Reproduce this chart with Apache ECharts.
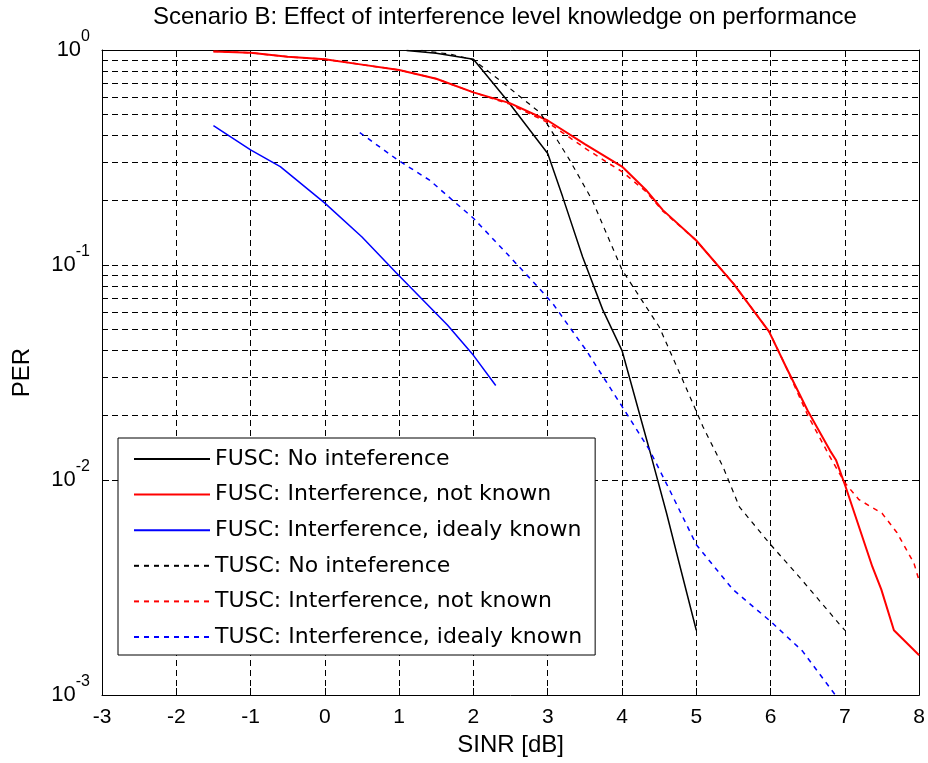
<!DOCTYPE html>
<html>
<head>
<meta charset="utf-8">
<script src="https://cdn.jsdelivr.net/npm/echarts@6/dist/echarts.min.js"></script>
<style>
  html, body { margin: 0; padding: 0; background: #fff; }
  #chart { width: 928px; height: 763px; }
</style>
</head>
<body>
<div id="chart"></div>
<script>
// SINR [dB] vs packet error rate, Scenario B
const fuscNoIntX = [1.1, 1.5, 2.0, 2.45, 3.0, 3.2, 3.47, 3.74, 4.0, 4.37, 4.6, 4.77, 5.0];
const fuscNoIntY = [0.995, 0.965, 0.905, 0.585, 0.33, 0.208, 0.109, 0.062, 0.04, 0.0138, 0.007, 0.0041, 0.002];

const fuscUnknownX = [-1.5, -1.0, -0.5, 0, 0.5, 1.0, 1.5, 2.0, 2.49, 3.0, 3.5, 4.0, 4.32, 4.55, 5.0, 5.5, 5.98, 6.2, 6.5, 6.8, 6.88, 7.01, 7.37, 7.49, 7.66, 8.0];
const fuscUnknownY = [0.985, 0.971, 0.93, 0.905, 0.855, 0.807, 0.735, 0.635, 0.566, 0.47, 0.365, 0.287, 0.224, 0.18, 0.13, 0.082, 0.049, 0.034, 0.021, 0.0137, 0.0124, 0.0093, 0.00395, 0.0031, 0.002, 0.00153];

const fuscKnownX = [-1.5, -1.0, -0.6, 0, 0.5, 0.96, 1.65, 2.0, 2.3];
const fuscKnownY = [0.445, 0.343, 0.287, 0.194, 0.135, 0.092, 0.0526, 0.038, 0.0275];

const tuscNoIntX = [1.3, 1.7, 2.0, 2.35, 2.9, 3.29, 3.6, 4.0, 4.5, 4.82, 5.09, 5.36, 5.58, 5.98, 6.43, 6.92, 7.0];
const tuscNoIntY = [0.995, 0.955, 0.9, 0.725, 0.51, 0.31, 0.2, 0.095, 0.0516, 0.029, 0.0177, 0.0115, 0.0075, 0.0051, 0.0034, 0.00215, 0.002];

const tuscUnknownX = [-1.5, -1.0, -0.5, 0, 0.5, 1.0, 1.5, 2.0, 2.49, 3.0, 3.5, 3.8, 4.0, 4.32, 4.55, 5.0, 5.5, 5.98, 6.2, 6.5, 6.8, 7.0, 7.19, 7.5, 7.7, 7.93, 8.0];
const tuscUnknownY = [0.985, 0.971, 0.93, 0.905, 0.855, 0.807, 0.735, 0.635, 0.56, 0.46, 0.35, 0.3, 0.272, 0.22, 0.178, 0.13, 0.082, 0.049, 0.034, 0.02, 0.0128, 0.0097, 0.0081, 0.007, 0.0057, 0.0041, 0.0034];

const tuscKnownX = [0.47, 0.98, 1.41, 1.72, 2.0, 2.45, 2.84, 3.07, 3.52, 4.0, 4.37, 4.64, 5.0, 5.49, 6.0, 6.43, 6.9];
const tuscKnownY = [0.413, 0.308, 0.248, 0.2, 0.165, 0.113, 0.081, 0.066, 0.04, 0.022, 0.0138, 0.009, 0.005, 0.0031, 0.0022, 0.0016, 0.00097];

const seriesNames = [
  'FUSC: No inteference',
  'FUSC: Interference, not known',
  'FUSC: Interference, idealy known',
  'TUSC: No inteference',
  'TUSC: Interference, not known',
  'TUSC: Interference, idealy known'
];

// log-decade subdivisions (2..9 x 10^k) used for the minor grid
const minorGridValues = [
  0.002, 0.003, 0.004, 0.005, 0.006, 0.007, 0.008, 0.009,
  0.02, 0.03, 0.04, 0.05, 0.06, 0.07, 0.08, 0.09,
  0.2, 0.3, 0.4, 0.5, 0.6, 0.7, 0.8, 0.9
];

const titleText = 'Scenario B: Effect of interference level knowledge on performance';
const xName = 'SINR [dB]';
const yName = 'PER';

const FONT = '"Liberation Sans", Arial, sans-serif';
const LEGEND_FONT = '"DejaVu Sans", Verdana, sans-serif';
const GRID_DASH = [6, 4];

function zip(xs, ys) {
  return xs.map((x, i) => [x, ys[i]]);
}

function curve(name, xs, ys, color, dashed, width) {
  return {
    name: name,
    type: 'line',
    data: zip(xs, ys),
    symbol: 'none',
    z: 10,
    clip: true,
    animation: false,
    lineStyle: { color: color, width: width, type: dashed ? [5, 5] : 'solid' },
    itemStyle: { color: color }
  };
}

const chart = echarts.init(document.getElementById('chart'), null, { renderer: 'canvas' });

chart.setOption({
  backgroundColor: '#ffffff',
  animation: false,
  title: {
    text: titleText,
    left: 153,
    top: 5,
    padding: 0,
    textStyle: { fontFamily: FONT, fontSize: 24, fontWeight: 'normal', color: '#000' }
  },
  grid: { left: 102, right: 8, top: 50, bottom: 68, containLabel: false },
  legend: {
    data: seriesNames,
    orient: 'vertical',
    left: 118,
    top: 438,
    padding: [10, 13, 7, 15],
    itemWidth: 76,
    itemHeight: 14,
    itemGap: 13.6,
    backgroundColor: '#ffffff',
    borderColor: '#000',
    borderWidth: 1,
    borderRadius: 0,
    selectedMode: false,
    itemStyle: { opacity: 0, borderWidth: 0 },
    textStyle: { fontFamily: LEGEND_FONT, fontSize: 22, lineHeight: 22, color: '#000' }
  },
  xAxis: [
    {
      type: 'value',
      position: 'bottom',
      min: -3,
      max: 8,
      interval: 1,
      name: xName,
      nameLocation: 'middle',
      nameGap: 38,
      nameTextStyle: { fontFamily: FONT, fontSize: 24, color: '#000' },
      axisLine: { show: true, onZero: false, lineStyle: { color: '#000', width: 1 } },
      axisTick: { show: true, inside: true, length: 7, lineStyle: { color: '#000' } },
      axisLabel: { fontFamily: FONT, fontSize: 21, color: '#000', margin: 12 },
      splitLine: { show: true, lineStyle: { color: '#000', width: 1, type: GRID_DASH } }
    },
    {
      type: 'value',
      position: 'top',
      min: -3,
      max: 8,
      interval: 1,
      axisLine: { show: true, onZero: false, lineStyle: { color: '#000', width: 1 } },
      axisTick: { show: true, inside: true, length: 7, lineStyle: { color: '#000' } },
      axisLabel: { show: false },
      splitLine: { show: false }
    }
  ],
  yAxis: [
    {
      type: 'log',
      logBase: 10,
      position: 'left',
      min: 0.001,
      max: 1,
      name: yName,
      nameLocation: 'middle',
      nameGap: 68,
      nameRotate: 90,
      nameTextStyle: { fontFamily: FONT, fontSize: 24, color: '#000' },
      axisLine: { show: true, onZero: false, lineStyle: { color: '#000', width: 1 } },
      axisTick: { show: true, inside: true, length: 7, lineStyle: { color: '#000' } },
      axisLabel: {
        margin: 12,
        formatter: function (v) {
          const e = Math.round(Math.log10(v));
          return '{b|10}{s|' + e + '}';
        },
        rich: {
          b: { fontFamily: FONT, fontSize: 22, lineHeight: 42, color: '#000' },
          s: { fontFamily: FONT, fontSize: 16, lineHeight: 16, color: '#000', verticalAlign: 'top' }
        }
      },
      splitLine: { show: true, lineStyle: { color: '#000', width: 1, type: GRID_DASH } }
    },
    {
      type: 'log',
      logBase: 10,
      position: 'right',
      min: 0.001,
      max: 1,
      axisLine: { show: true, onZero: false, lineStyle: { color: '#000', width: 1 } },
      axisTick: { show: true, inside: true, length: 7, lineStyle: { color: '#000' } },
      axisLabel: { show: false },
      splitLine: { show: false }
    }
  ],
  series: [
    {
      type: 'line',
      data: [],
      silent: true,
      markLine: {
        silent: true,
        symbol: ['none', 'none'],
        z: 1,
        animation: false,
        label: { show: false },
        lineStyle: { color: '#000', width: 1, type: GRID_DASH },
        emphasis: { disabled: true },
        data: minorGridValues.map(v => ({ yAxis: v }))
      }
    },
    curve(seriesNames[0], fuscNoIntX, fuscNoIntY, '#000000', false, 1.5),
    curve(seriesNames[1], fuscUnknownX, fuscUnknownY, '#ff0000', false, 2),
    curve(seriesNames[2], fuscKnownX, fuscKnownY, '#0000ff', false, 1.5),
    curve(seriesNames[3], tuscNoIntX, tuscNoIntY, '#000000', true, 1.2),
    curve(seriesNames[4], tuscUnknownX, tuscUnknownY, '#ff0000', true, 1.5),
    curve(seriesNames[5], tuscKnownX, tuscKnownY, '#0000ff', true, 1.5)
  ]
});
</script>
</body>
</html>
